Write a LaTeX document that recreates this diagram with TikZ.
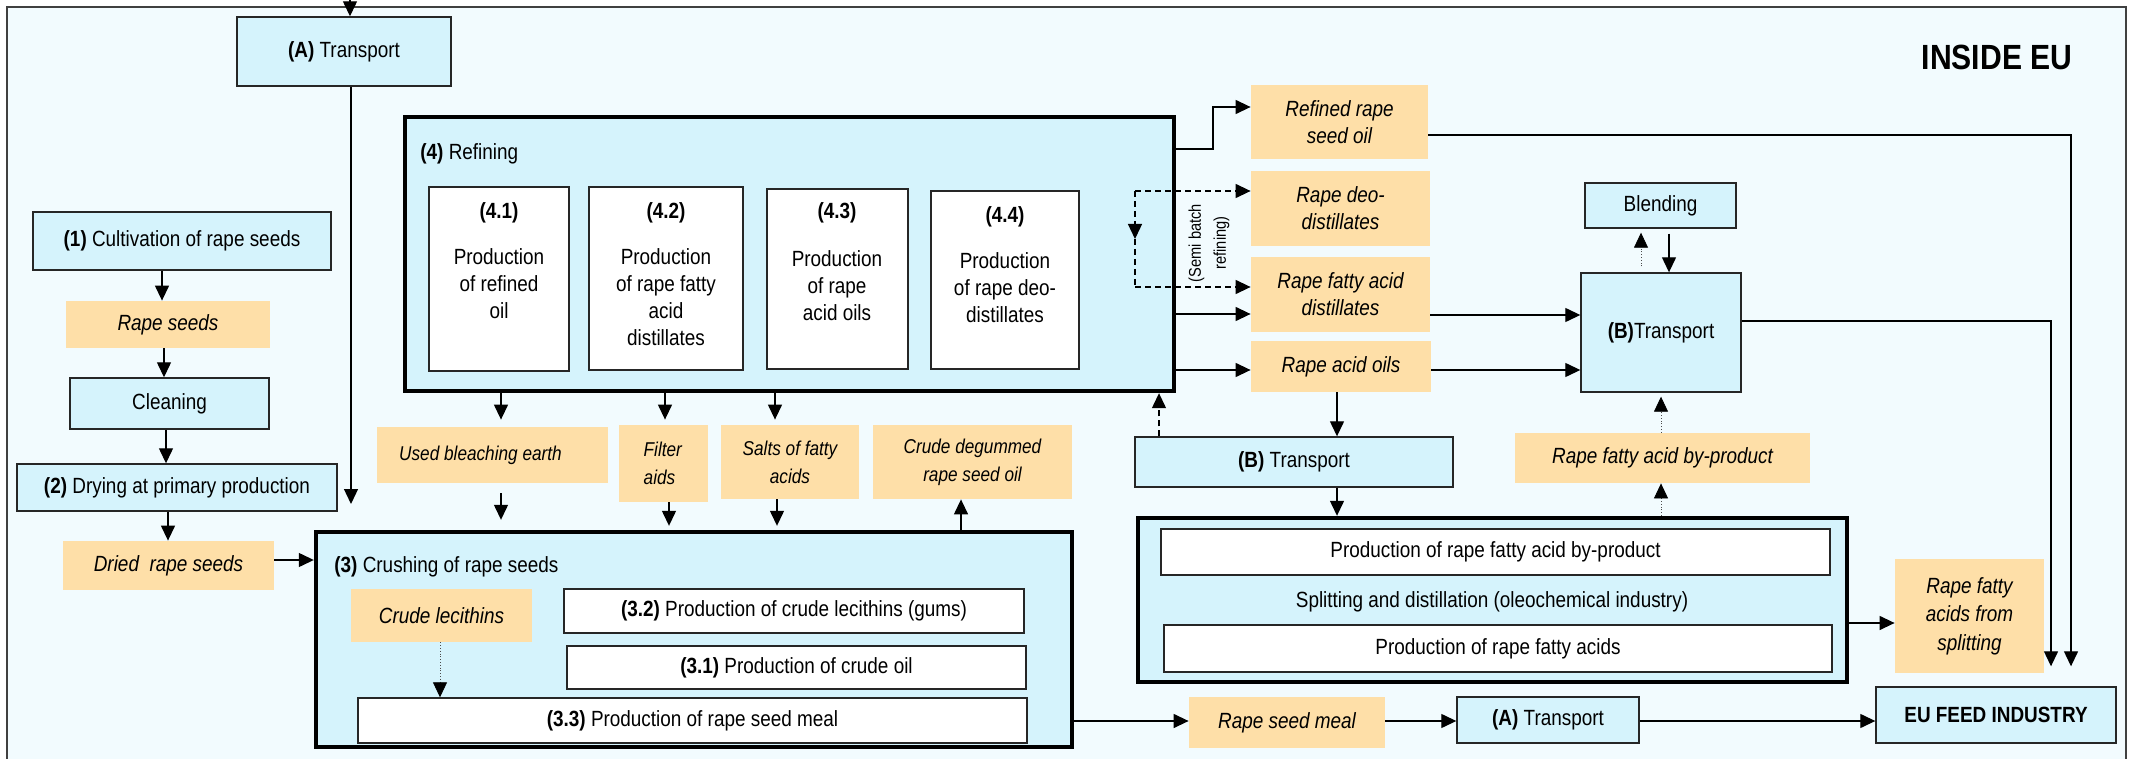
\documentclass[tikz,border=0pt]{standalone}
\usepackage{fontspec}
\setmainfont{Liberation Sans}[FakeStretch=0.86]
\usetikzlibrary{arrows.meta}
\definecolor{cBg}{HTML}{F2FBFE}
\definecolor{cBlue}{HTML}{D5F3FC}
\definecolor{cOrange}{HTML}{FEDFA8}
\newcommand\myfa{\fontsize{11}{13.5}\selectfont}
\newcommand\myfb{\fontsize{10}{14}\selectfont}
% \mybox{style}{x1}{y1}{x2}{y2}{name}{text}
\newcommand\mybox[7]{\node[#1,minimum width={(#4-#2)*0.5pt},minimum height={(#5-#3)*0.5pt}] (#6) at ({(#2+#4)/2},{(#3+#5)/2}) {#7};}
\begin{document}
\begin{tikzpicture}[x=0.5pt,y=-0.5pt,
  bluebox/.style={draw=black!85,line width=0.7pt,fill=cBlue,inner sep=0pt,align=center,font=\myfa},
  thickbox/.style={draw=black,line width=2.2pt,fill=cBlue,inner sep=0pt},
  whitebox/.style={draw=black!85,line width=0.7pt,fill=white,inner sep=0pt,align=center,font=\myfa},
  orangebox/.style={fill=cOrange,inner sep=0pt,align=center,font=\myfa\itshape},
  orangesmall/.style={fill=cOrange,inner sep=0pt,align=center,font=\myfb\itshape},
  plain/.style={inner sep=0pt,font=\myfa},
  arr/.style={line width=0.65pt,-{Triangle[length=7.5pt,width=7pt]}},
  dasharr/.style={line width=0.65pt,dash pattern=on 3pt off 2pt,-{Triangle[length=7.5pt,width=7pt]}},
  dashline/.style={line width=0.65pt,dash pattern=on 3pt off 2pt},
  dotarr/.style={line width=0.4pt,black!70,densely dotted,-{Triangle[length=7.5pt,width=7pt,black]}}
]
\useasboundingbox (0,0) rectangle (2137,759);
\fill[white] (0,0) rectangle (2137,759);
\draw[draw=black!75,line width=0.6pt,fill=cBg] (7,7) rectangle (2126,790);

\node[font=\fontsize{17.5}{20}\selectfont\bfseries,inner sep=0pt] (inside) at (1997,57) {INSIDE EU};

% left column
\mybox{bluebox}{237}{17}{451}{86}{tA1}{\textbf{(A)} Transport}
\mybox{bluebox}{33}{212}{331}{270}{cult}{\textbf{(1)} Cultivation of rape seeds}
\mybox{orangebox}{66}{301}{270}{348}{rs}{Rape seeds}
\mybox{bluebox}{70}{378}{269}{429}{clean}{Cleaning}
\mybox{bluebox}{17}{464}{337}{511}{dry}{\textbf{(2)} Drying at primary production}
\mybox{orangebox}{63}{541}{274}{590}{dried}{Dried\ \ rape seeds}

% refining
\mybox{thickbox}{405}{117}{1174}{391}{ref}{}
\node[plain,anchor=west] (refT) at (420,154) {\textbf{(4)} Refining};
\mybox{whitebox}{429}{187}{569}{371}{r41}{}
\mybox{whitebox}{589}{187}{743}{370}{r42}{}
\mybox{whitebox}{767}{189}{908}{369}{r43}{}
\mybox{whitebox}{931}{191}{1079}{369}{r44}{}
\node[plain] (l41) at (499,213) {\textbf{(4.1)}};
\node[plain] (l42) at (666,213) {\textbf{(4.2)}};
\node[plain] (l43) at (837,213) {\textbf{(4.3)}};
\node[plain] (l44) at (1005,217) {\textbf{(4.4)}};
\node[plain,align=center] (b41) at (499,284) {Production\\of refined\\oil};
\node[plain,align=center] (b42) at (666,297) {Production\\of rape fatty\\acid\\distillates};
\node[plain,align=center] (b43) at (837,286) {Production\\of rape\\acid oils};
\node[plain,align=center] (b44) at (1005,288) {Production\\of rape deo-\\distillates};

% by-products of refining
\mybox{orangesmall}{377}{427}{608}{483}{ube}{Used bleaching earth\hspace*{12pt}}
\mybox{orangesmall,align=left}{619}{425}{708}{502}{fa}{Filter\\aids\hspace*{4pt}}
\mybox{orangesmall}{721}{425}{859}{499}{salts}{Salts of fatty\\acids}
\mybox{orangesmall}{873}{425}{1072}{499}{cdo}{Crude degummed\\rape seed oil}

% crushing
\mybox{thickbox}{316}{532}{1072}{747}{crush}{}
\node[plain,anchor=west] (crushT) at (334,567) {\textbf{(3)} Crushing of rape seeds};
\mybox{orangebox}{351}{589}{532}{642}{lec}{Crude lecithins}
\mybox{whitebox}{564}{589}{1024}{633}{c32}{\textbf{(3.2)} Production of crude lecithins (gums)}
\mybox{whitebox}{567}{646}{1026}{689}{c31}{\textbf{(3.1)} Production of crude oil}
\mybox{whitebox}{358}{698}{1027}{743}{c33}{\textbf{(3.3)} Production of rape seed meal}

% right side products
\mybox{orangebox}{1251}{85}{1428}{159}{rro}{Refined rape\\seed oil}
\mybox{orangebox}{1251}{171}{1430}{246}{rdd}{Rape deo-\\distillates}
\mybox{orangebox}{1251}{257}{1430}{332}{rfad}{Rape fatty acid\\distillates}
\mybox{orangebox}{1251}{341}{1431}{392}{rao}{Rape acid oils}
\node[rotate=90,align=center,inner sep=0pt,font=\fontsize{8.5}{12.5}\selectfont] (sbt) at (1209,243) {(Semi batch\\refining)};

\mybox{bluebox}{1585}{183}{1736}{228}{blend}{Blending}
\mybox{bluebox}{1581}{273}{1741}{392}{tB1}{\textbf{(B)}Transport}
\mybox{bluebox}{1135}{437}{1453}{487}{tB2}{\textbf{(B)} Transport}
\mybox{orangebox}{1515}{433}{1810}{483}{byp}{Rape fatty acid by-product}

\mybox{thickbox}{1138}{518}{1847}{682}{split}{}
\mybox{whitebox}{1161}{529}{1830}{575}{sp1}{Production of rape fatty acid by-product}
\node[plain] (spT) at (1492,602) {Splitting and distillation (oleochemical industry)};
\mybox{whitebox}{1164}{625}{1832}{672}{sp2}{Production of rape fatty acids}
\mybox{orangebox,font=\fontsize{11}{14.2}\selectfont\itshape}{1895}{559}{2044}{673}{rfs}{Rape fatty\\acids from\\splitting}

\mybox{orangebox}{1189}{697}{1385}{748}{rsm}{Rape seed meal}
\mybox{bluebox}{1457}{697}{1639}{743}{tA2}{\textbf{(A)} Transport}
\mybox{bluebox}{1876}{687}{2116}{743}{euf}{\textbf{EU FEED INDUSTRY}}

% ---- connectors ----
\coordinate (topin) at (350,-10);
\draw[arr] (topin) -- (topin |- tA1.north);
\coordinate (tAend) at (351,504);
\draw[arr] (tAend |- tA1.south) -- (tAend);

\draw[arr] (cult.south -| 162,0) -- (rs.north -| 162,0);
\draw[arr] (rs.south -| 164,0) -- (clean.north -| 164,0);
\draw[arr] (clean.south -| 166,0) -- (dry.north -| 166,0);
\draw[arr] (dry.south -| 168,0) -- (dried.north -| 168,0);
\draw[arr] (dried.east |- 0,560) -- (crush.west |- 0,560);

\draw[arr,shorten >=3.5pt] (ref.south -| 501,0) -- (ube.north -| 501,0);
\draw[arr,shorten <=5pt,shorten >=5pt] (ube.south -| 501,0) -- (crush.north -| 501,0);
\draw[arr,shorten >=2.5pt] (ref.south -| 665,0) -- (fa.north -| 665,0);
\draw[arr,shorten >=2pt] (fa.south -| 669,0) -- (crush.north -| 669,0);
\draw[arr,shorten >=2.5pt] (ref.south -| 775,0) -- (salts.north -| 775,0);
\draw[arr,shorten >=2pt] (salts.south -| 777,0) -- (crush.north -| 777,0);
\draw[arr] (crush.north -| 961,0) -- (cdo.south -| 961,0);
\draw[dotarr] (lec.south -| 440,0) -- (c33.north -| 440,0);

\draw[arr] (ref.east |- 0,149) -- (1213,149) -- (1213,107) -- (rro.west |- 0,107);
\coordinate (sb1) at (1135,191);
\coordinate (sb2) at (1135,287);
\coordinate (sbm) at (1135,239);
\draw[dasharr] (sb1) -- (rdd.west |- sb1);
\draw[dasharr] (sb1) -- (sbm);
\draw[dashline] (sbm) -- (sb2);
\draw[dasharr] (sb2) -- (rfad.west |- sb2);
\draw[arr] (ref.east |- 0,314) -- (rfad.west |- 0,314);
\draw[arr] (ref.east |- 0,370) -- (rao.west |- 0,370);

\draw[arr] (rfad.east |- 0,315) -- (tB1.west |- 0,315);
\draw[arr] (rao.east |- 0,370) -- (tB1.west |- 0,370);

\draw[arr,shorten >=10pt] (rro.east |- 0,135) -- (2071,135) -- (euf.north -| 2071,0);
\draw[arr,shorten >=10pt] (tB1.east |- 0,321) -- (2051,321) -- (euf.north -| 2051,0);

\draw[arr,shorten <=2.5pt] (blend.south -| 1669,0) -- (tB1.north -| 1669,0);
\draw[dotarr,shorten <=3pt,shorten >=2pt] (tB1.north -| 1641,0) -- (blend.south -| 1641,0);
\draw[dotarr,shorten >=2pt] (byp.north -| 1661,0) -- (tB1.south -| 1661,0);
\draw[dotarr] (split.north -| 1661,0) -- (byp.south -| 1661,0);

\draw[arr] (rao.south -| 1337,0) -- (tB2.north -| 1337,0);
\draw[arr] (tB2.south -| 1337,0) -- (split.north -| 1337,0);
\draw[dasharr] (tB2.north -| 1159,0) -- (ref.south -| 1159,0);

\draw[arr] (split.east |- 0,623) -- (rfs.west |- 0,623);
\draw[arr] (crush.east |- 0,721) -- (rsm.west |- 0,721);
\draw[arr] (rsm.east |- 0,721) -- (tA2.west |- 0,721);
\draw[arr] (tA2.east |- 0,721) -- (euf.west |- 0,721);
\end{tikzpicture}
\end{document}
